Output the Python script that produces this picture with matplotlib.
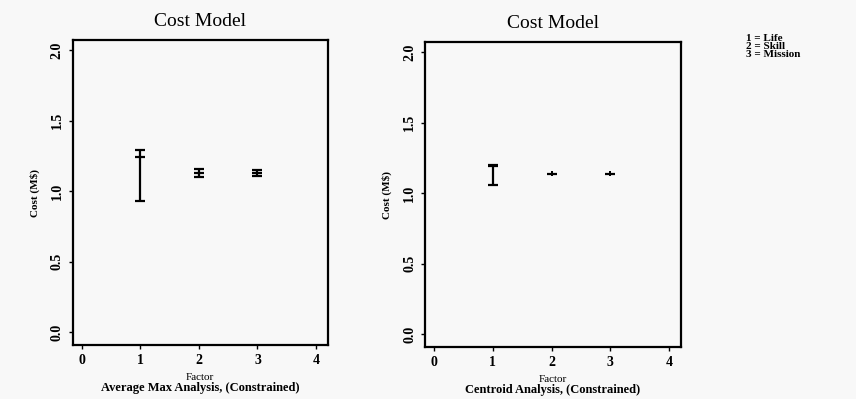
import matplotlib
matplotlib.use("Agg")
import matplotlib.pyplot as plt

plt.rcParams['font.family'] = ['Liberation Serif', 'DejaVu Serif']

factors = [1, 2, 3]
# cost values (M$) read for each factor
avgmax_vals = [[0.93, 1.24, 1.29], [1.10, 1.13, 1.16], [1.11, 1.13, 1.15]]
centroid_vals = [[1.06, 1.19, 1.20], [1.14], [1.14]]
subtitles = ["Average Max Analysis, (Constrained)", "Centroid Analysis, (Constrained)"]
legend_lines = ["1 = Life", "2 = Skill", "3 = Mission"]

fig = plt.figure(figsize=(8.56, 3.99), dpi=100)
fig.patch.set_facecolor('#f8f8f8')
ax1 = fig.add_axes([0.085, 0.135, 0.298, 0.764])
ax2 = fig.add_axes([0.497, 0.130, 0.298, 0.764])

for ax, vals, sub in zip([ax1, ax2], [avgmax_vals, centroid_vals], subtitles):
    ax.set_facecolor('#f8f8f8')
    for f, v in zip(factors, vals):
        if len(v) > 1:
            ax.vlines(f, min(v), max(v), color='black', lw=1.6)
        else:
            ax.vlines(f, v[0] - 0.02, v[0] + 0.02, color='black', lw=1.4)
        ax.plot([f] * len(v), v, ls='none', marker='_', ms=7, mew=1.6, color='black')
    ax.set_xlim(-0.15, 4.2)
    ax.set_ylim(-0.09, 2.07)
    ax.set_xticks([0, 1, 2, 3, 4])
    ax.set_yticks([0.0, 0.5, 1.0, 1.5, 2.0])
    ax.set_yticklabels(['0.0', '0.5', '1.0', '1.5', '2.0'], rotation=90, va='center')
    ax.tick_params(labelsize=10, length=3, width=1)
    for lab in ax.get_xticklabels() + ax.get_yticklabels():
        lab.set_fontweight('bold')
    for s in ax.spines.values():
        s.set_linewidth(1.6)
    ax.set_title("Cost Model", fontsize=14, pad=10)
    ax.set_ylabel("Cost (M$)", fontsize=8, fontweight='bold', labelpad=8)
    ax.text(0.5, -0.105, "Factor", transform=ax.transAxes, ha='center', va='center',
            fontsize=8)
    ax.text(0.5, -0.14, sub, transform=ax.transAxes, ha='center', va='center',
            fontsize=9, fontweight='bold')

fig.text(0.872, 0.915, "\n".join(legend_lines), fontsize=8, fontweight='bold',
         va='top', ha='left', linespacing=0.85)

fig.savefig("out.png", dpi=100, facecolor=fig.get_facecolor())
